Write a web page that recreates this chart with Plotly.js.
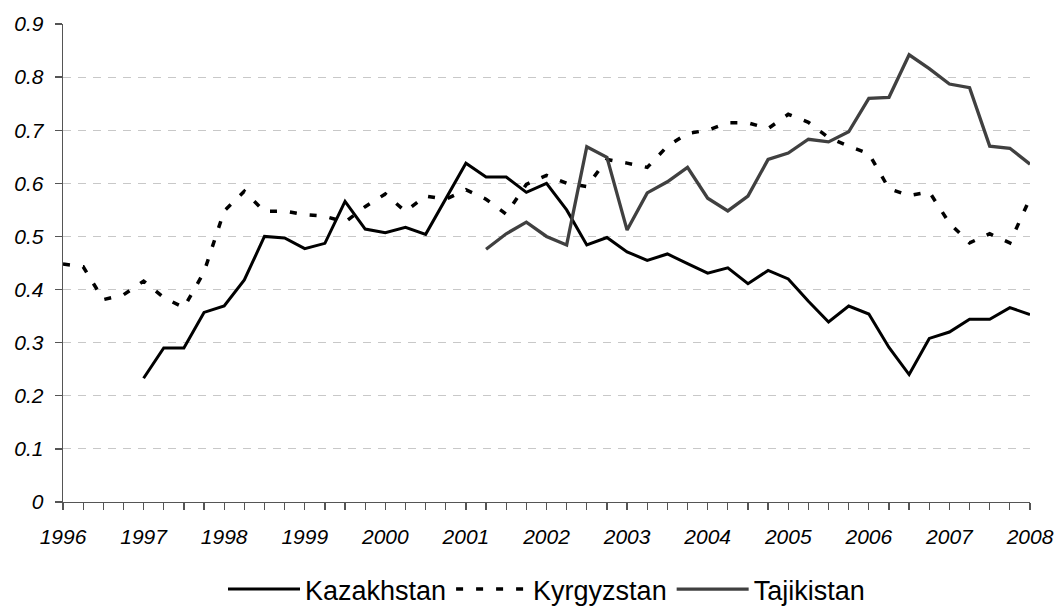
<!DOCTYPE html>
<html>
<head>
<meta charset="utf-8">
<script src="https://cdn.plot.ly/plotly-3.0.1.min.js"></script>
<style>html,body{margin:0;padding:0;background:#fff;}#chart{width:1055px;height:609px;}</style>
</head>
<body>
<div id="chart"></div>
<script>
// quarterly periods 1996Q1 .. 2008Q1 (x = year + quarter/4)
const startYear = 1996;
const nPeriods = 49;
const periods = [];
for (let i = 0; i < nPeriods; i++) periods.push(startYear + i / 4);

const yearTicks = [1996,1997,1998,1999,2000,2001,2002,2003,2004,2005,2006,2007,2008];
const yearLabels = ["1996","1997","1998","1999","2000","2001","2002","2003","2004","2005","2006","2007","2008"];
const yTicks = [0,0.1,0.2,0.3,0.4,0.5,0.6,0.7,0.8,0.9];
const yLabels = ["0","0.1","0.2","0.3","0.4","0.5","0.6","0.7","0.8","0.9"];

const kazakhstan = [null,null,null,null,
  0.233,0.290,0.290,0.357,0.369,0.418,0.500,0.497,0.477,0.487,0.566,0.514,
  0.507,0.517,0.504,0.572,0.638,0.612,0.612,0.583,0.600,0.550,0.484,0.498,
  0.471,0.455,0.467,0.449,0.431,0.441,0.411,0.436,0.420,0.378,0.339,0.369,
  0.354,0.291,0.240,0.308,0.320,0.344,0.344,0.366,0.353];

const kyrgyzstan = [0.448,0.443,0.381,0.390,0.416,0.385,0.366,0.433,0.548,0.585,
  0.547,0.548,0.541,0.538,0.527,0.556,0.580,0.547,0.576,0.570,0.588,0.570,
  0.542,0.598,0.615,0.600,0.594,0.645,0.638,0.630,0.670,0.694,0.700,0.714,
  0.714,0.703,0.730,0.715,0.686,0.670,0.656,0.590,0.577,0.584,0.525,0.488,
  0.505,0.488,0.572];

const tajikistan = [null,null,null,null,null,null,null,null,null,null,null,null,
  null,null,null,null,null,null,null,null,null,
  0.476,0.505,0.527,0.500,0.484,0.669,0.649,0.512,0.582,0.603,0.630,0.572,
  0.548,0.576,0.645,0.657,0.683,0.678,0.697,0.760,0.762,0.842,0.816,0.787,
  0.780,0.670,0.666,0.636];

const font = 'Liberation Sans, Arial, sans-serif';

const traces = [
  {x: periods, y: kazakhstan, name: 'Kazakhstan', type: 'scatter', mode: 'lines',
   line: {color: '#000000', width: 3}, connectgaps: false},
  {x: periods, y: kyrgyzstan, name: 'Kyrgyzstan', type: 'scatter', mode: 'lines',
   line: {color: '#000000', width: 3.5, dash: '7px,13px'}, connectgaps: false},
  {x: periods, y: tajikistan, name: 'Tajikistan', type: 'scatter', mode: 'lines',
   line: {color: '#404040', width: 3.3}, connectgaps: false}
];

const layout = {
  width: 1055, height: 609,
  margin: {l: 63, r: 25, t: 24, b: 107},
  paper_bgcolor: '#ffffff', plot_bgcolor: '#ffffff',
  showlegend: true,
  legend: {orientation: 'h', xref: 'paper', yref: 'container', x: 0.5, xanchor: 'center',
           y: 0.032, yanchor: 'middle', itemwidth: 72, traceorder: 'normal',
           font: {family: font, size: 27, color: '#000'}, bgcolor: 'rgba(0,0,0,0)'},
  xaxis: {
    range: [1996, 2008], tickmode: 'array', tickvals: yearTicks, ticktext: yearLabels,
    showgrid: false, zeroline: false, showline: true, linecolor: '#555', linewidth: 1.3,
    ticks: 'outside', ticklen: 7, tickcolor: '#555', tickwidth: 1.3,
    ticklabelstandoff: 8,
    minor: {dtick: 0.25, tick0: 1996, ticks: 'outside', ticklen: 7, tickcolor: '#555', tickwidth: 1.3, showgrid: false},
    tickfont: {family: font, size: 21, style: 'italic', color: '#000'}
  },
  yaxis: {
    range: [0, 0.9], tickmode: 'array', tickvals: yTicks, ticktext: yLabels,
    showgrid: true, gridcolor: '#c8c8c8', gridwidth: 1, griddash: '8px,7px',
    zeroline: false, showline: true, linecolor: '#555', linewidth: 1.3,
    ticks: 'outside', ticklen: 7, tickcolor: '#555', tickwidth: 1.3,
    ticklabelstandoff: 7,
    tickfont: {family: font, size: 21, style: 'italic', color: '#000'}
  }
};

Plotly.newPlot('chart', traces, layout, {staticPlot: true, displayModeBar: false});
</script>
</body>
</html>
